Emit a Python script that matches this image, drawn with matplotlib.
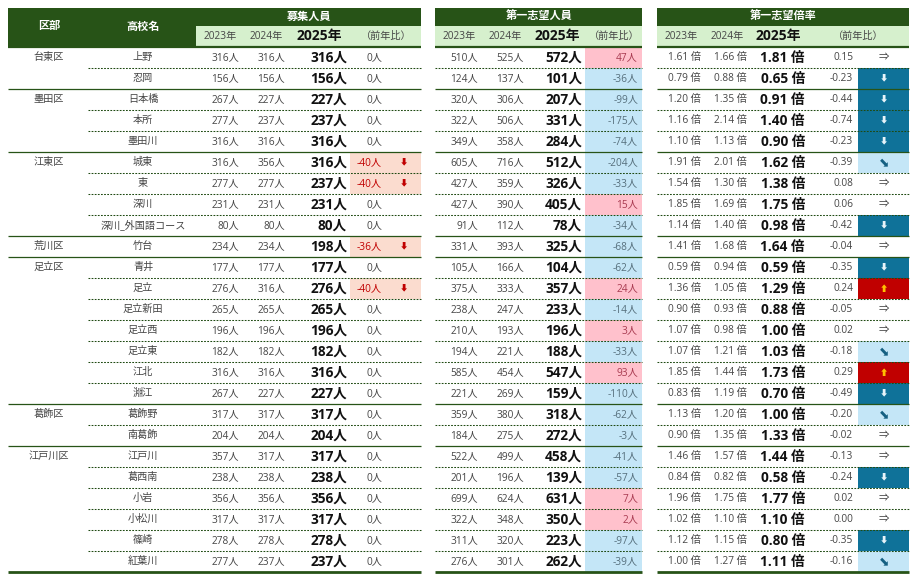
"""東京都立高校 応募状況テーブル."""

import matplotlib

matplotlib.use("Agg")
import matplotlib.pyplot as plt
from matplotlib.patches import Rectangle

plt.rcParams["font.family"] = ["Open Sans", "Noto Sans CJK JP", "DejaVu Sans"]

# 区部ごとの校数
wards = ["台東区", "墨田区", "江東区", "荒川区", "足立区", "葛飾区", "江戸川区"]
ward_counts = [2, 3, 4, 1, 7, 2, 6]

schools = ["上野", "忍岡", "日本橋", "本所", "墨田川", "城東", "東", "深川", "深川_外国語コース",
           "竹台", "青井", "足立", "足立新田", "足立西", "足立東", "江北", "淵江", "葛飾野",
           "南葛飾", "江戸川", "葛西南", "小岩", "小松川", "篠崎", "紅葉川"]

# 募集人員
quota_2023 = [316, 156, 267, 277, 316, 316, 277, 231, 80, 234, 177, 276, 265, 196, 182, 316, 267,
              317, 204, 357, 238, 356, 317, 278, 277]
quota_2024 = [316, 156, 227, 237, 316, 356, 277, 231, 80, 234, 177, 316, 265, 196, 182, 316, 227,
              317, 204, 317, 238, 356, 317, 278, 237]
quota_2025 = [316, 156, 227, 237, 316, 316, 237, 231, 80, 198, 177, 276, 265, 196, 182, 316, 227,
              317, 204, 317, 238, 356, 317, 278, 237]
quota_diff = [0, 0, 0, 0, 0, -40, -40, 0, 0, -36, 0, -40, 0, 0, 0, 0, 0,
              0, 0, 0, 0, 0, 0, 0, 0]

# 第一志望人員
apply_2023 = [510, 124, 320, 322, 349, 605, 427, 427, 91, 331, 105, 375, 238, 210, 194, 585, 221,
              359, 184, 522, 201, 699, 322, 311, 276]
apply_2024 = [525, 137, 306, 506, 358, 716, 359, 390, 112, 393, 166, 333, 247, 193, 221, 454, 269,
              380, 275, 499, 196, 624, 348, 320, 301]
apply_2025 = [572, 101, 207, 331, 284, 512, 326, 405, 78, 325, 104, 357, 233, 196, 188, 547, 159,
              318, 272, 458, 139, 631, 350, 223, 262]
apply_diff = [47, -36, -99, -175, -74, -204, -33, 15, -34, -68, -62, 24, -14, 3, -33, 93, -110,
              -62, -3, -41, -57, 7, 2, -97, -39]

# 第一志望倍率
rate_2023 = [1.61, 0.79, 1.20, 1.16, 1.10, 1.91, 1.54, 1.85, 1.14, 1.41, 0.59, 1.36, 0.90, 1.07,
             1.07, 1.85, 0.83, 1.13, 0.90, 1.46, 0.84, 1.96, 1.02, 1.12, 1.00]
rate_2024 = [1.66, 0.88, 1.35, 2.14, 1.13, 2.01, 1.30, 1.69, 1.40, 1.68, 0.94, 1.05, 0.93, 0.98,
             1.21, 1.44, 1.19, 1.20, 1.35, 1.57, 0.82, 1.75, 1.10, 1.15, 1.27]
rate_2025 = [1.81, 0.65, 0.91, 1.40, 0.90, 1.62, 1.38, 1.75, 0.98, 1.64, 0.59, 1.29, 0.88, 1.00,
             1.03, 1.73, 0.70, 1.00, 1.33, 1.44, 0.58, 1.77, 1.10, 0.80, 1.11]
rate_diff = [0.15, -0.23, -0.44, -0.74, -0.23, -0.39, 0.08, 0.06, -0.42, -0.04, -0.35, 0.24, -0.05,
             0.02, -0.18, 0.29, -0.49, -0.20, -0.02, -0.13, -0.24, 0.02, 0.00, -0.35, -0.16]
# アイコン: f=横ばい d=下 s=右下 u=上
rate_icon = ["f", "d", "d", "d", "d", "s", "f", "f", "d", "f", "d", "u", "f", "f", "s", "u", "d",
             "s", "f", "f", "d", "f", "f", "d", "s"]

GREEN = "#275317"
SUB = "#d6f0cd"
TXT = "#454545"
TOP, ROW = 47.3, 21.0
FS, FS_B = 7.3, 9.8

fig = plt.figure(figsize=(9.15, 5.78), dpi=100)
ax = fig.add_axes([0, 0, 1, 1])
ax.set_xlim(0, 915)
ax.set_ylim(578, 0)
ax.axis("off")


def cy(i):
    return TOP + ROW * (i + 0.5)


def cell(x0, x1, i, color):
    ax.add_patch(Rectangle((x0, TOP + ROW * i), x1 - x0, ROW, fc=color, ec="none", zorder=1))


def header(x0, x1, sub_x0, title, title_x, year_x):
    ax.add_patch(Rectangle((x0, 8), x1 - x0, 18, fc=GREEN, ec="none", zorder=2))
    ax.add_patch(Rectangle((sub_x0, 26), x1 - sub_x0, 20.5, fc=SUB, ec="none", zorder=2))
    ax.plot([x0, x1], [46.8, 46.8], color=GREEN, lw=1.6, zorder=3, solid_capstyle="butt")
    ax.text(title_x, 17, title, color="white", fontsize=8, fontweight="bold", ha="center",
            va="center", zorder=4)
    for x, lab, fs, w in zip(year_x, ["2023年", "2024年", "2025年", "（前年比）"],
                             [7.3, 7.3, 10.0, 7.3], ["normal", "normal", "bold", "normal"]):
        ax.text(x, 36, lab, color="#111111" if w == "bold" else TXT, fontsize=fs, fontweight=w,
                ha="center", va="center", zorder=4)


def rules(x0, x1, x_dash):
    # 区の切れ目は実線、校の切れ目は点線
    end = 0
    breaks = []
    for n in ward_counts:
        end += n
        breaks.append(end)
    for k in range(1, len(schools)):
        y = TOP + ROW * k
        if k in breaks:
            ax.plot([x0, x1], [y, y], color=GREEN, lw=0.9, zorder=3, solid_capstyle="butt")
        else:
            ax.plot([x_dash, x1], [y, y], color="#1f4a12", lw=0.75, ls=(0, (1.7, 1.3)), zorder=3,
                    dash_capstyle="butt")
    y = TOP + ROW * len(schools)
    ax.plot([x0, x1], [y, y], color=GREEN, lw=2.0, zorder=3, solid_capstyle="butt")


def right(x, y, s, color=TXT, fs=FS, w="normal"):
    ax.text(x, y, s, color=color, fontsize=fs, fontweight=w, ha="right", va="center", zorder=4)


# --- 募集人員 ---
header(8, 421, 196, "募集人員", 309, [220, 266, 319, 386])
ax.text(49, 27, "区部", color="white", fontsize=8, fontweight="bold", ha="center", va="center", zorder=4)
ax.text(143, 27, "高校名", color="white", fontsize=8, fontweight="bold", ha="center", va="center", zorder=4)
ax.add_patch(Rectangle((8, 26), 188, 20.5, fc=GREEN, ec="none", zorder=2))
rules(8, 421, 88)

start = 0
for ward, n in zip(wards, ward_counts):
    ax.text(49, cy(start), ward, color=TXT, fontsize=FS, ha="center", va="center", zorder=4)
    start += n

for i, name in enumerate(schools):
    y = cy(i)
    ax.text(143, y, name, color=TXT, fontsize=FS, ha="center", va="center", zorder=4)
    right(239, y, f"{quota_2023[i]}人")
    right(285, y, f"{quota_2024[i]}人")
    right(347, y, f"{quota_2025[i]}人", "#111111", FS_B, "bold")
    if quota_diff[i] < 0:
        cell(350, 421, i, "#fbdccf")
        right(382, y, f"{quota_diff[i]}人", "#c00000", FS)
        ax.text(404, y, "⬇", color="#c00000", fontsize=6, ha="center", va="center", zorder=4)
    else:
        right(382, y, f"{quota_diff[i]}人")

# --- 第一志望人員 ---
header(435, 642, 435, "第一志望人員", 539, [459, 505, 557, 614])
rules(435, 642, 435)
for i in range(len(schools)):
    y = cy(i)
    right(478, y, f"{apply_2023[i]}人")
    right(524, y, f"{apply_2024[i]}人")
    right(582, y, f"{apply_2025[i]}人", "#111111", FS_B, "bold")
    up = apply_diff[i] > 0
    cell(585, 642, i, "#ffc1cc" if up else "#c4e6f7")
    right(638, y, f"{apply_diff[i]}人", "#a83a50" if up else "#566f7c")

# --- 第一志望倍率 ---
header(657, 909, 657, "第一志望倍率", 783, [681, 727, 778, 858])
rules(657, 909, 657)
icons = {
    "f": ("⇒", None, "#404040", 7.5),
    "d": ("⬇", "#0f7299", "#e8f4fa", 6.0),
    "s": ("⬊", "#c4e6f7", "#156082", 9.0),
    "u": ("⬆", "#c00000", "#ffc000", 6.0),
}
for i in range(len(schools)):
    y = cy(i)
    right(701, y, f"{rate_2023[i]:.2f} 倍")
    right(747, y, f"{rate_2024[i]:.2f} 倍")
    right(805, y, f"{rate_2025[i]:.2f} 倍", "#111111", FS_B, "bold")
    right(853, y, f"{rate_diff[i]:.2f}")
    glyph, bg, fg, size = icons[rate_icon[i]]
    if bg:
        cell(858, 909, i, bg)
    ax.text(884, y, glyph, color=fg, fontsize=size, ha="center", va="center", zorder=4)

fig.savefig("out.png", dpi=100)
